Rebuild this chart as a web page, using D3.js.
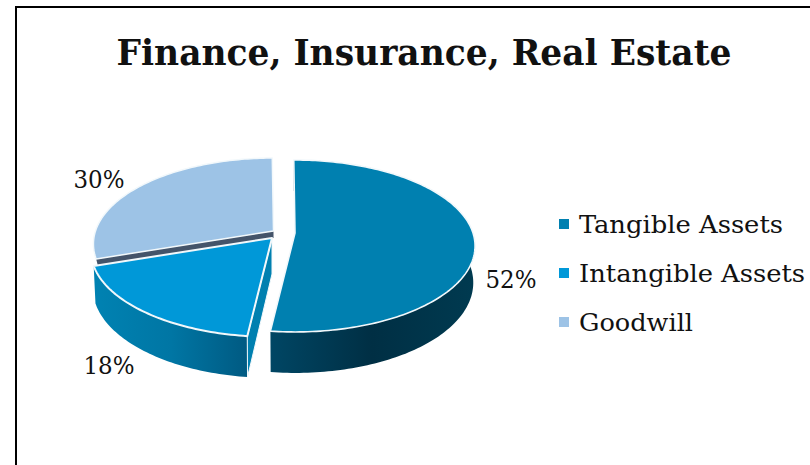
<!DOCTYPE html>
<html><head><meta charset="utf-8">
<script src="https://cdn.jsdelivr.net/npm/d3@7"></script>
<style>html,body{margin:0;padding:0;background:#fff;overflow:hidden}svg{display:block}text{font-family:"DejaVu Serif Condensed","DejaVu Serif",serif;font-stretch:condensed;fill:#111}</style>
</head><body><svg id="c" width="810" height="465"></svg>
<script>
const categories = ["Tangible Assets", "Intangible Assets", "Goodwill"];
const shares = [52, 18, 30];
const colors = ["#0080b0", "#0098d8", "#9dc3e6"];
const titleText = "Finance, Insurance, Real Estate";

const svg = d3.select("#c");
const defs = svg.append("defs");
function grad(id, x1, x2, stops){
  const g = defs.append("linearGradient").attr("id", id).attr("gradientUnits","userSpaceOnUse")
    .attr("x1",x1).attr("x2",x2).attr("y1",0).attr("y2",0);
  stops.forEach(s => g.append("stop").attr("offset",s[0]).attr("stop-color",s[1]));
}
grad("wall0", 271, 473, [[0,"#004664"],[0.5,"#002f44"],[1,"#003a50"]]);
grad("wall1", 95, 247, [[0,"#0082b2"],[0.5,"#0076a4"],[1,"#005a82"]]);

// frame
svg.append("path").attr("d","M16,465V7H810").attr("fill","none").attr("stroke","#000").attr("stroke-width",2);

// title
svg.append("text").attr("x",424).attr("y",65).attr("text-anchor","middle")
  .attr("font-size",35).attr("font-weight","bold").attr("textLength",615).attr("lengthAdjust","spacingAndGlyphs").text(titleText);

// perspective disc
const S = 84, K = 0.151;
const apexes = [[295,233,178],[272,238,179],[273.5,231,178]];
const pie = d3.pie().sort(null).value(d => d).startAngle(-0.008).endAngle(2*Math.PI-0.008);
const arcs = pie(shares);
function proj(ax, a, r){
  const u = Math.sin(a)*r, v = -Math.cos(a)*r, w = 1 - K*v;
  return [ax[0] + ax[2]*u/w, ax[1] + S*v/w, v];
}
function drop(ax, p, cut){
  return [ax[0] + 0.99*(p[0]-ax[0]), p[1] + (cut === undefined ? 36 + 5*p[2] : cut)];
}
const line = d3.line();
function arcPts(ax, a0, a1){
  const n = Math.ceil((a1-a0)/0.02);
  return d3.range(n+1).map(i => proj(ax, a0 + (a1-a0)*i/n, 1));
}
function topPath(i){
  const ax = apexes[i], pts = arcPts(ax, arcs[i].startAngle, arcs[i].endAngle);
  return line([[ax[0],ax[1]], ...pts.map(p=>[p[0],p[1]])]) + "Z";
}
function wallPath(i){
  const ax = apexes[i], pts = arcPts(ax, arcs[i].startAngle, arcs[i].endAngle);
  return line([...pts.map(p=>[p[0],p[1]]), ...pts.slice().reverse().map(p=>drop(ax,p))]) + "Z";
}
function radial(i, a, fill, cut){
  const ax = apexes[i], p = proj(ax, a, 1), c = [ax[0],ax[1],0];
  return svg.append("path").attr("d", line([[c[0],c[1]],[p[0],p[1]],drop(ax,p,cut),drop(ax,c,cut)])+"Z").attr("fill",fill);
}
const stroke = "#f2f8fb";
// goodwill: dark cut face then top
radial(2, arcs[2].startAngle, "#44546a", 7);
svg.append("path").attr("d",topPath(2)).attr("fill",colors[2]).attr("stroke",stroke).attr("stroke-width",1.5).attr("stroke-linejoin","round");
// intangible
svg.append("path").attr("d",wallPath(1)).attr("fill","url(#wall1)");
radial(1, arcs[1].startAngle, "#0080b0").attr("stroke",stroke).attr("stroke-width",1);
svg.append("path").attr("d",topPath(1)).attr("fill",colors[1]).attr("stroke",stroke).attr("stroke-width",2).attr("stroke-linejoin","round");
// tangible
svg.append("path").attr("d",wallPath(0)).attr("fill","url(#wall0)");
svg.append("path").attr("d",topPath(0)).attr("fill",colors[0]).attr("stroke",stroke).attr("stroke-width",1.6).attr("stroke-linejoin","round");

// data labels
const labelAt = [[511,288],[109,374],[99,188]];
const labelWidth = 51;
svg.selectAll("text.pct").data(shares).enter().append("text").attr("class","pct")
  .attr("x",(d,i)=>labelAt[i][0]).attr("y",(d,i)=>labelAt[i][1]).attr("text-anchor","middle")
  .attr("font-size",24).attr("font-weight",300).attr("textLength",labelWidth).attr("lengthAdjust","spacingAndGlyphs").text(d=>d+"%");

// legend
const rows = d3.scalePoint().domain(categories).range([224,322]);
const widths = [204,226,114];
const leg = svg.selectAll("g.l").data(categories).enter().append("g").attr("class","l")
  .attr("transform",d=>`translate(559,${rows(d)})`);
leg.append("rect").attr("x",0).attr("y",-5).attr("width",10).attr("height",10).attr("fill",(d,i)=>colors[i]);
leg.append("text").attr("x",20).attr("y",9).attr("font-size",25).attr("textLength",(d,i)=>widths[i]).attr("lengthAdjust","spacingAndGlyphs").text(d=>d);
</script></body></html>
